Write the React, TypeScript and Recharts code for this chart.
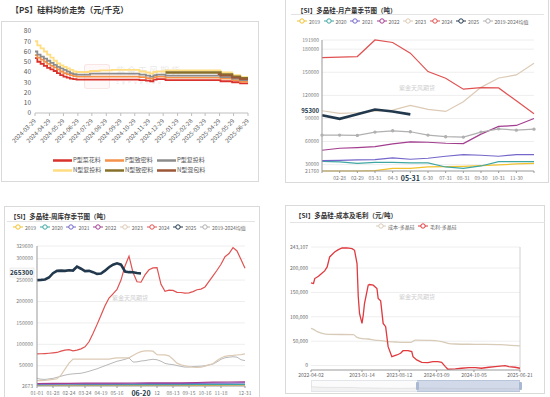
import React from "react";
import { LineChart, Line, XAxis, YAxis, CartesianGrid, ReferenceLine, AreaChart, Area } from "recharts";

const FONT = '"Noto Sans CJK SC", "Noto Sans", sans-serif';

// ---------- 【PS】硅料均价走势（元/千克） ----------
const PS_DATES = [
  "2024-03-29", "2024-04-03", "2024-04-10", "2024-04-17", "2024-04-24", "2024-05-01", "2024-05-08",
  "2024-05-15", "2024-05-22", "2024-05-29", "2024-06-05", "2024-06-12", "2024-06-19", "2024-06-26",
  "2024-07-25", "2024-08-15", "2024-09-10", "2024-11-08", "2024-11-22", "2024-12-01", "2024-12-08",
  "2024-12-15", "2025-01-03", "2025-04-25", "2025-05-01", "2025-05-26", "2025-06-12", "2025-06-29",
];
const PS_P_CAIHUA = [53.5, 50, 48, 46, 44, 42.5, 41, 39, 37, 35.5, 34.5, 33.5, 33, 32.5, 32.5, 32.5, 32.5, 32, 31.5, 31, 32.5, 33, 32, 32, 31, 30, 29, 29];
const PS_P_ZHIMI = [56.5, 54, 52, 50, 48, 46, 44.5, 42.5, 40.5, 39, 38, 37, 36, 35.5, 35.5, 35.5, 35.5, 35, 34, 33.5, 35, 35.5, 34.5, 34.5, 33.5, 32, 30.5, 30.5];
const PS_P_FUTOU = [60, 57, 55, 53, 51, 49, 47, 45, 43.5, 42, 40.5, 39, 38, 37.5, 38.5, 38.5, 38.5, 37.5, 36.5, 35.5, 37, 37.5, 36.5, 36.5, 35, 33.5, 32, 32];
const PS_N_FUTOU = [70, 66, 63, 60, 57, 54, 51, 48.5, 46.5, 45, 43.5, 42, 40.5, 40, 41, 41.5, 42, 40.5, 39.5, 38.5, 40, 40.5, 41.5, 41.5, 39.5, 37, 35, 35];
const PS_N_ZHIMI = [null, null, null, null, null, null, null, null, null, null, null, null, null, null, null, null, null, null, null, null, null, null, 39.5, 39.5, 37.5, 35.5, 34, 34];
const PS_N_HUNBAO = [null, null, null, null, null, null, null, null, null, null, null, null, null, null, null, null, null, null, null, null, null, null, null, 38, 36.5, 34.5, 33, 33];
const PS_TICKS = [
  "2024-03-29", "2024-04-29", "2024-05-29", "2024-06-29", "2024-07-29", "2024-08-29", "2024-09-29", "2024-10-29",
  "2024-11-29", "2024-12-29", "2025-01-29", "2025-02-28", "2025-03-29", "2025-04-29", "2025-05-29", "2025-06-29",
];
const PS_Y_TICKS = [0, 10, 20, 30, 40, 50, 60, 70, 80];
const PS_NAMES = ["P型菜花料", "P型致密料", "P型复投料", "N型复投料", "N型致密料", "N型混包料"];
const PS_COLORS = ["#d9312b", "#f4914a", "#8c8c8c", "#ffdd80", "#86702a", "#9c5638"];

// ---------- 【SI】多晶硅-月产量季节图（吨） ----------
const OUT_MONTHS = ["01-31", "02-28", "02-29", "03-31", "04-3", "05-31", "6-30", "07-31", "08-31", "09-30", "10-31", "11-30", "12-31"];
const OUT_2019 = [21760, 21760, 21760, 22200, 25200, 25200, 27000, 27400, 27800, 28700, 29600, 30900, 31700];
const OUT_2020 = [34300, 33500, 31700, 33000, 33000, 32200, 32200, 27000, 25200, 28300, 33900, 33900, 33900];
const OUT_2021 = [35200, 35600, 36100, 36500, 38700, 37000, 38300, 40900, 43100, 42200, 40900, 43100, 43100];
const OUT_2022 = [48700, 51300, 52200, 53500, 57000, 59600, 59100, 57800, 57400, 69600, 79600, 80900, 90000];
const OUT_2023 = [100000, 96500, 97400, 99600, 100900, 107000, 101700, 99100, 111700, 130400, 142600, 146500, 161700];
const OUT_2024 = [169100, null, 170400, 191900, 188700, 174800, 150900, 142200, 128000, 130000, 129600, 113000, 96000];
const OUT_2025 = [94300, 89500, 95600, 101700, 99100, 95300, null, null, null, null, null, null, null];
const OUT_AVG = [68400, 68400, 68000, 72300, 74000, 72700, 68400, 66300, 65800, 72300, 76500, 74800, 76100];
const OUT_TICKS = [21760, 30000, 60000, 90000, 95300, 120000, 150000, 180000, 191900];
const OUT_GRID = [30000, 60000, 90000, 120000, 150000, 180000, 191900];

// ---------- 【SI】多晶硅-周库存季节图（吨） ----------
const INV_2024 = [
  77700, 78000, 78500, 79200, 80000, 81000, 84000, 86500, 87700, 84600, 86500, 89500, 94000, 106000,
  125400, 146000, 168000, 190000, 208000, 218000, 228000, 250000, 283000, 306000, 267700, 246000, 245000,
  262000, 274000, 278500, 279000, 240000, 223800, 226500, 226000, 221500, 221000, 219500, 220000, 223000,
  227500, 229000, 234000, 247000, 260000, 273000, 287000, 304600, 312000, 326000, 318000, 298000, 277400,
];
const INV_2025 = [
  250000, 250500, 251500, 256000, 266000, 271500, 272000, 271500, 273000, 272300, 281500, 276500, 271000,
  271500, 268500, 264500, 265500, 272000, 280000, 286000, 289000, 286000, 270000, 268500, 268400, 266500, 265300,
];
const INV_2023 = [
  15000, 15000, 15500, 17000, 18000, 19500, 28000, 42000, 56000, 65600, 65600, 65600, 65600, 65600,
  65600, 65600, 65600, 65600, 65600, 67000, 68500, 68500, 68500, 68500, 74000, 79000, 83000, 84500,
  84600, 84000, 76000, 75400, 75400, 73000, 65000, 56000, 52000, 50000, 48000, 46500, 46000, 46500,
  49000, 52000, 54500, 62000, 68000, 72000, 73500, 74000, 75000, 76000, 77500,
];
const INV_AVG = [
  20300, 18500, 18000, 19300, 20500, 23000, 25500, 28000, 30000, 31000, 31800, 32400, 34500, 37000,
  40000, 42800, 46500, 50000, 53500, 57000, 60500, 62500, 65000, 68000, 58500, 59000, 61000, 62000,
  63800, 65000, 64000, 60500, 55500, 53500, 52600, 50500, 48500, 46800, 47000, 48000, 48500, 49000,
  50000, 52000, 54000, 59000, 65000, 68500, 70000, 71000, 70000, 64000, 62000,
];
const INV_WEEKS_4 = [0, 4, 8, 12, 16, 20, 24, 28, 32, 36, 40, 44, 48, 52];
const INV_2019 = [3800, 3800, 3900, 3900, 4000, 4000, 4000, 4100, 4100, 4200, 4200, 4300, 4400, 4500];
const INV_2020 = [5500, 5600, 5600, 5700, 5800, 5800, 5900, 6000, 6000, 6100, 6200, 6300, 6500, 6600];
const INV_2021 = [7000, 7200, 7300, 7500, 7600, 7800, 7900, 8000, 8200, 8400, 8700, 9200, 9600, 9800];
const INV_2022 = [8500, 8800, 9000, 9300, 9500, 9600, 9700, 9800, 9900, 10000, 10800, 11500, 12000, 12500];
const INV_TICK_WEEKS = [0, 4, 8, 12, 16, 20, 26, 30, 34, 38, 42, 46, 52];
const INV_TICK_LABELS = ["01-01", "01-28", "02-24", "03-24", "04-19", "05-16", "06-20", "12", "08-13", "09-15", "10-16", "11-18", "12-31"];
const INV_TICKS = [2673, 50000, 100000, 150000, 200000, 250000, 265300, 300000, 329600];
const INV_GRID = [50000, 100000, 150000, 200000, 250000, 300000, 329600];

// ---------- 【SI】多晶硅-成本及毛利（元/吨） ----------
const PROFIT_WEEKS = [0, 2, 3, 6, 9, 11, 13, 15, 19, 22, 25, 29, 33, 35, 37, 38, 39, 41, 42, 43, 46, 47, 50, 53, 54, 56, 58, 60, 62, 65, 69, 72, 74, 78, 81, 82, 85, 89, 94, 98, 102, 105, 108, 110, 116, 121, 127, 132, 137, 143, 148, 156, 159, 164, 168];
const PROFIT = [169600, 168200, 178400, 183200, 190000, 194100, 202300, 222700, 232900, 237700, 241100, 241100, 239700, 236300, 209100, 141000, 106900, 86500, 103500, 127300, 164800, 166200, 164800, 158000, 137600, 132800, 86500, 79700, 38800, 18400, 21800, 25200, 30600, 30600, 28600, 18400, 11600, 6800, 6100, 8200, 8200, 6800, -2000, -7500, -6800, -5400, -4100, -4100, -5400, -3400, -2000, 0, -2000, -3400, -5400];
const COST_WEEKS = [0, 2, 5, 9, 14, 34, 37, 41, 46, 51, 57, 62, 68, 73, 80, 84, 94, 100, 105, 110, 116, 132, 153, 161, 168];
const COST = [76300, 74200, 69500, 66100, 64000, 63500, 57900, 55200, 54500, 52400, 51100, 49000, 48400, 47700, 47700, 52400, 51800, 51100, 49000, 45600, 44300, 43600, 42900, 41500, 40200];
const PC_TICK_WEEKS = [0, 41, 71, 101, 131, 168];
const PC_TICK_LABELS = ["2022-04-02", "2023-01-14", "2023-08-12", "2024-03-09", "2024-10-05", "2025-06-21"];
const PC_Y_TICKS = [0, 50000, 100000, 150000, 200000, 243107];

const YEAR_NAMES = ["2019", "2020", "2021", "2022", "2023", "2024", "2025", "2019-2024均值"];
const YEAR_COLORS = ["#f2c12e", "#3fa7a3", "#7467c9", "#a23d8f", "#dccab5", "#e05252", "#22384c", "#b0b0b0"];

const dayOf = (d: string) => Math.round((Date.parse(d) - Date.parse(PS_DATES[0])) / 86400000);

const psData = PS_DATES.map((d, i) => ({
  day: dayOf(d),
  s0: PS_P_CAIHUA[i], s1: PS_P_ZHIMI[i], s2: PS_P_FUTOU[i],
  s3: PS_N_FUTOU[i], s4: PS_N_ZHIMI[i], s5: PS_N_HUNBAO[i],
}));

const outData = OUT_MONTHS.map((m, i) => ({
  m, y19: OUT_2019[i], y20: OUT_2020[i], y21: OUT_2021[i], y22: OUT_2022[i],
  y23: OUT_2023[i], y24: OUT_2024[i], y25: OUT_2025[i], avg: OUT_AVG[i],
}));

const weekly = (arr: number[]) => arr.map((v, w) => ({ w, v }));
const paired = (weeks: number[], arr: number[]) => weeks.map((w, i) => ({ w, v: arr[i] }));

const abs = (l: number, t: number, extra: any = {}) => ({ position: "absolute" as const, left: l, top: t, ...extra });

function Box({ l, t, w, h }: { l: number; t: number; w: number; h: number }) {
  return <div style={abs(l, t, { width: w, height: h, border: "1px solid #dadada", boxSizing: "border-box" })} />;
}

function Title({ l, t, size, text }: { l: number; t: number; size: number; text: string }) {
  return (
    <div style={abs(l, t, { fontSize: size, fontWeight: 700, color: "#333", whiteSpace: "nowrap", lineHeight: 1 })}>{text}</div>
  );
}

function Rule({ l, t, w }: { l: number; t: number; w: number }) {
  return <div style={abs(l, t, { width: w, height: 1, background: "#e3e3e3" })} />;
}

function Watermark({ cx, cy }: { cx: number; cy: number }) {
  return (
    <div style={abs(cx - 30, cy - 4, { width: 60, textAlign: "center", fontSize: 6, color: "#cfcfcf", lineHeight: 1 })}>紫金天风期货</div>
  );
}

// legend item: short line with hollow circle (echarts style)
function CircleLegend({ x, y, color, label }: { x: number; y: number; color: string; label: string }) {
  return (
    <div style={abs(x - 5, y - 3, { display: "flex", alignItems: "center", whiteSpace: "nowrap" })}>
      <svg width={10} height={6}>
        <line x1={0} y1={3} x2={10} y2={3} stroke={color} strokeWidth={1} />
        <circle cx={5} cy={3} r={2.2} fill="#fff" stroke={color} strokeWidth={1} />
      </svg>
      <span style={{ fontSize: 5, color: "#666", marginLeft: 2, lineHeight: 1 }}>{label}</span>
    </div>
  );
}

function PsTick(props: any) {
  const { x, y, payload } = props;
  const label = PS_TICKS.find((d) => dayOf(d) === payload.value) || "";
  return (
    <g transform={`translate(${x},${y + 2}) rotate(-45)`}>
      <text x={0} y={0} dy={2} textAnchor="end" fontSize={6} fill="#595959" fontFamily={FONT}>{label}</text>
    </g>
  );
}

function PricePanel() {
  const keys = ["s0", "s1", "s2", "s3", "s4", "s5"];
  return (
    <>
      <Title l={11} t={6} size={8} text="【PS】硅料均价走势（元/千克）" />
      <Box l={1} t={21} w={258} h={161} />
      {/* faint logo watermark */}
      <div style={abs(84, 64, { width: 24, height: 23, border: "1px solid rgba(230,120,120,0.15)", background: "rgba(240,160,160,0.07)", borderRadius: 3 })} />
      <div style={abs(116, 66, { fontSize: 9, color: "rgba(190,190,190,0.35)", letterSpacing: 2, whiteSpace: "nowrap", lineHeight: 1 })}>紫金天风期货</div>
      <div style={abs(116, 82, { fontSize: 3, color: "rgba(200,160,160,0.4)", letterSpacing: 3, whiteSpace: "nowrap", lineHeight: 1 })}>立足产业研究驱动</div>
      <div style={abs(0, 21)}>
        <LineChart width={260} height={130} data={psData} margin={{ top: 10, right: 12, bottom: 0, left: 0 }}>
          <XAxis
            dataKey="day"
            type="number"
            domain={[0, dayOf("2025-06-29")]}
            ticks={PS_TICKS.map(dayOf)}
            interval={0}
            height={38}
            tick={<PsTick />}
            tickSize={3}
            tickLine={{ stroke: "#bfbfbf" }}
            axisLine={{ stroke: "#bfbfbf" }}
          />
          <YAxis
            domain={[0, 80]}
            ticks={PS_Y_TICKS}
            interval={0}
            width={35}
            tickSize={3}
            tickMargin={1}
            tickLine={false}
            axisLine={false}
            tick={{ fontSize: 6.5, fill: "#595959", fontFamily: FONT }}
          />
          {keys.map((k, i) => (
            <Line
              key={k}
              dataKey={k}
              type="stepAfter"
              stroke={PS_COLORS[i]}
              strokeWidth={i === 4 ? 2.4 : 1.8}
              dot={false}
              isAnimationActive={false}
            />
          ))}
        </LineChart>
      </div>
      {PS_NAMES.map((n, i) => (
        <div key={n} style={abs(53 + (i % 3) * 52, (i < 3 ? 160 : 170) - 3.5, { display: "flex", alignItems: "center", whiteSpace: "nowrap" })}>
          <svg width={19} height={7}>
            <line x1={0} y1={3.5} x2={19} y2={3.5} stroke={PS_COLORS[i]} strokeWidth={2.5} />
          </svg>
          <span style={{ fontSize: 6, color: "#595959", marginLeft: 1, lineHeight: 1 }}>{n}</span>
        </div>
      ))}
    </>
  );
}

function OutYTick(props: any) {
  const { x, y, payload } = props;
  const hl = payload.value === 95300;
  return (
    <text x={x} y={hl ? y - 3.5 : y} dy="0.35em" textAnchor="end" fontSize={hl ? 6 : 5} fontWeight={hl ? 700 : 400} fill={hl ? "#22384c" : "#777"} fontFamily={FONT}>
      {payload.value}
    </text>
  );
}

function OutXTick(props: any) {
  const { x, y, payload, index } = props;
  if (index === 0 || index === OUT_MONTHS.length - 1) return <g />;
  const hl = payload.value === "05-31";
  return (
    <text x={x} y={y} dy={hl ? 6 : 4.5} textAnchor="middle" fontSize={hl ? 7 : 5} fontWeight={hl ? 700 : 400} fill={hl ? "#22384c" : "#777"} fontFamily={FONT}>
      {payload.value}
    </text>
  );
}

function OutputPanel() {
  const keys = ["y19", "y20", "y21", "y22", "avg", "y23", "y24", "y25"];
  const colorOf: any = { y19: 0, y20: 1, y21: 2, y22: 3, y23: 4, y24: 5, y25: 6, avg: 7 };
  return (
    <>
      <Box l={285} t={-1} w={264} h={184} />
      <Title l={297} t={6.5} size={6.5} text="【SI】多晶硅-月产量季节图（吨）" />
      <Rule l={291} t={14} w={253} />
      {YEAR_NAMES.map((n, i) => (
        <CircleLegend key={n} x={302 + i * 26.5} y={21} color={YEAR_COLORS[i]} label={n} />
      ))}
      <Watermark cx={417} cy={89} />
      <div style={abs(285, 30)}>
        <LineChart width={264} height={153} data={outData} margin={{ top: 10, right: 15, bottom: 0, left: 0 }}>
          <CartesianGrid vertical={false} stroke="#eeeeee" horizontalValues={OUT_GRID} />
          <XAxis
            dataKey="m"
            height={12}
            interval={0}
            tick={<OutXTick />}
            tickSize={2}
            tickLine={{ stroke: "#999" }}
            axisLine={{ stroke: "#999" }}
          />
          <YAxis
            domain={[21760, 191900]}
            ticks={OUT_TICKS}
            interval={0}
            width={37}
            tickSize={2}
            tickMargin={1}
            tickLine={false}
            axisLine={{ stroke: "#999" }}
            tick={<OutYTick />}
          />
          {keys.map((k) => (
            <Line
              key={k}
              dataKey={k}
              type="linear"
              stroke={YEAR_COLORS[colorOf[k]]}
              strokeWidth={k === "y25" ? 2.6 : 1.2}
              dot={k === "avg" ? { r: 1.1, fill: "#b0b0b0", stroke: "#b0b0b0" } : false}
              connectNulls={k !== "y25"}
              isAnimationActive={false}
            />
          ))}
        </LineChart>
      </div>
    </>
  );
}

function InvYTick(props: any) {
  const { x, y, payload } = props;
  const hl = payload.value === 265300;
  if (hl) {
    return (
      <g>
        <rect x={x - 23} y={y - 5.5} width={24} height={9} fill="#fafafa" stroke="#e2e2e2" strokeWidth={0.6} />
        <text x={x} y={y - 1} dy="0.35em" textAnchor="end" fontSize={6.5} fontWeight={700} fill="#22384c" fontFamily={FONT}>{payload.value}</text>
      </g>
    );
  }
  return (
    <text x={x} y={y} dy="0.35em" textAnchor="end" fontSize={5} fill="#777" fontFamily={FONT}>{payload.value}</text>
  );
}

function InvXTick(props: any) {
  const { x, y, payload } = props;
  const i = INV_TICK_WEEKS.indexOf(payload.value);
  const hl = i === 6;
  return (
    <text x={x} y={y} dy={hl ? 6 : 4.5} textAnchor="middle" fontSize={hl ? 7 : 5} fontWeight={hl ? 700 : 400} fill={hl ? "#22384c" : "#777"} fontFamily={FONT}>
      {INV_TICK_LABELS[i]}
    </text>
  );
}

function InventoryPanel() {
  const series = [
    { d: paired(INV_WEEKS_4, INV_2019), c: 0, w: 1.2 },
    { d: paired(INV_WEEKS_4, INV_2020), c: 1, w: 1.2 },
    { d: paired(INV_WEEKS_4, INV_2021), c: 2, w: 1.2 },
    { d: paired(INV_WEEKS_4, INV_2022), c: 3, w: 1.2 },
    { d: weekly(INV_AVG), c: 7, w: 0.9 },
    { d: weekly(INV_2023), c: 4, w: 1.2 },
    { d: weekly(INV_2024), c: 5, w: 1.2 },
    { d: weekly(INV_2025), c: 6, w: 2.6 },
  ];
  return (
    <>
      <Box l={4} t={206} w={256} h={200} />
      <Title l={10} t={212.5} size={6.5} text="【SI】多晶硅-周库存季节图（吨）" />
      <Rule l={7} t={221} w={248} />
      {YEAR_NAMES.map((n, i) => (
        <CircleLegend key={n} x={18 + i * 26.7} y={227} color={YEAR_COLORS[i]} label={n} />
      ))}
      <Watermark cx={130} cy={299} />
      <div style={abs(4, 236)}>
        <LineChart width={256} height={161} margin={{ top: 10, right: 15, bottom: 0, left: 0 }}>
          <CartesianGrid vertical={false} stroke="#eeeeee" horizontalValues={INV_GRID} />
          <XAxis
            dataKey="w"
            type="number"
            domain={[0, 52]}
            ticks={INV_TICK_WEEKS}
            interval={0}
            height={11}
            tick={<InvXTick />}
            tickSize={2}
            tickLine={{ stroke: "#999" }}
            axisLine={{ stroke: "#999" }}
            allowDuplicatedCategory={false}
          />
          <YAxis
            domain={[2673, 329600]}
            ticks={INV_TICKS}
            interval={0}
            width={33}
            tickSize={3}
            tickMargin={1}
            tickLine={false}
            axisLine={{ stroke: "#999" }}
            tick={<InvYTick />}
            allowDataOverflow
          />
          {series.map((s, i) => (
            <Line
              key={i}
              data={s.d}
              dataKey="v"
              type="linear"
              stroke={YEAR_COLORS[s.c]}
              strokeWidth={s.w}
              dot={false}
              isAnimationActive={false}
            />
          ))}
        </LineChart>
      </div>
    </>
  );
}

function ProfitPanel() {
  return (
    <>
      <Box l={285} t={205} w={260} h={189} />
      <Title l={295} t={211.5} size={6.5} text="【SI】多晶硅-成本及毛利（元/吨）" />
      <Rule l={290} t={222} w={255} />
      <CircleLegend x={381} y={226} color="#d8cbb8" label="成本-多晶硅" />
      <CircleLegend x={423} y={226} color="#e0393e" label="毛利-多晶硅" />
      <Watermark cx={417} cy={298} />
      <div style={abs(285, 236)}>
        <LineChart width={260} height={145} margin={{ top: 11, right: 25, bottom: 0, left: 0 }}>
          <CartesianGrid vertical={false} stroke="#eeeeee" horizontalValues={PC_Y_TICKS} />
          <ReferenceLine x={168} stroke="#d0d0d0" />
          <XAxis
            dataKey="w"
            type="number"
            domain={[0, 168]}
            ticks={PC_TICK_WEEKS}
            interval={0}
            height={11}
            tickSize={2}
            tickMargin={1}
            tickLine={{ stroke: "#999" }}
            axisLine={{ stroke: "#999" }}
            tickFormatter={(w: number) => PC_TICK_LABELS[PC_TICK_WEEKS.indexOf(w)]}
            tick={{ fontSize: 5, fill: "#666", fontFamily: FONT }}
          />
          <YAxis
            domain={[-9000, 243107]}
            ticks={PC_Y_TICKS}
            interval={0}
            width={26}
            tickSize={2}
            tickMargin={1}
            tickLine={false}
            axisLine={false}
            tickFormatter={(v: number) => v.toLocaleString("en-US")}
            tick={{ fontSize: 5, fill: "#666", fontFamily: FONT }}
          />
          <Line data={paired(COST_WEEKS, COST)} dataKey="v" type="monotone" stroke="#d8cbb8" strokeWidth={1.3} dot={false} isAnimationActive={false} />
          <Line data={paired(PROFIT_WEEKS, PROFIT)} dataKey="v" type="linear" stroke="#e0393e" strokeWidth={1.3} dot={false} isAnimationActive={false} />
        </LineChart>
      </div>
      {/* data zoom slider */}
      <div style={abs(311, 380, { width: 209, height: 12, border: "1px solid #e2e5ea", boxSizing: "border-box", background: "#fbfbfc" })} />
      <div style={abs(311, 381)}>
        <AreaChart width={209} height={10} margin={{ top: 1, right: 0, bottom: 0, left: 0 }}>
          <XAxis dataKey="w" type="number" domain={[0, 168]} hide />
          <YAxis domain={[0, 160000]} hide />
          <Area data={paired(COST_WEEKS, COST)} dataKey="v" type="monotone" stroke="#d6d6d6" fill="#ececec" strokeWidth={0.6} isAnimationActive={false} />
        </AreaChart>
      </div>
      <div style={abs(417, 380, { width: 103, height: 12, background: "rgba(160,178,210,0.45)", boxSizing: "border-box", borderTop: "1px solid #b9c5da", borderBottom: "1px solid #b9c5da" })} />
      <div style={abs(415.5, 382, { width: 3, height: 8, background: "#a9b9d2", borderRadius: 1 })} />
      <div style={abs(518.5, 382, { width: 3, height: 8, background: "#a9b9d2", borderRadius: 1 })} />
    </>
  );
}

export default function App() {
  return (
    <div style={{ position: "fixed", left: 0, top: 0, width: 550, height: 397, background: "#fff", overflow: "hidden", fontFamily: FONT }}>
      <PricePanel />
      <OutputPanel />
      <InventoryPanel />
      <ProfitPanel />
    </div>
  );
}
